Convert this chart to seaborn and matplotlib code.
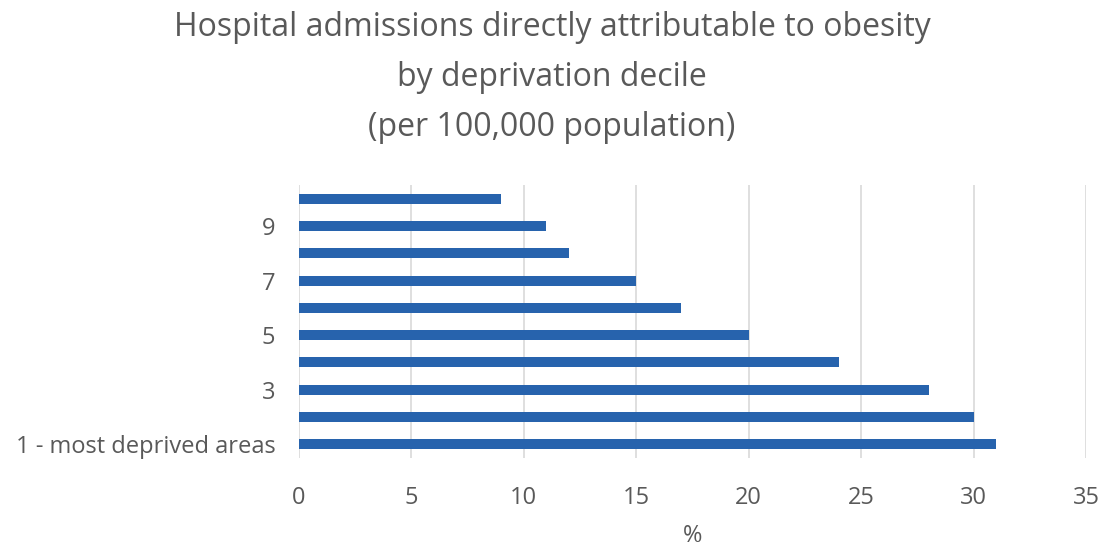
import matplotlib
matplotlib.use("Agg")
import matplotlib.pyplot as plt
import seaborn as sns
import pandas as pd

# Deprivation deciles, top of chart (least deprived) to bottom (most deprived)
deciles = ["10", "9", "8", "7", "6", "5", "4", "3", "2", "1 - most deprived areas"]
rates = [9, 11, 12, 15, 17, 20, 24, 28, 30, 31]
shown_labels = ["", "9", "", "7", "", "5", "", "3", "", "1 - most deprived areas"]
x_ticks = [0, 5, 10, 15, 20, 25, 30, 35]

title_lines = [
    "Hospital admissions directly attributable to obesity",
    "by deprivation decile",
    "(per 100,000 population)",
]

df = pd.DataFrame({"decile": deciles, "rate": rates})

sns.set_theme(style="white")
plt.rcParams["font.family"] = ["Open Sans", "DejaVu Sans"]

text_color = "#595959"
bar_color = "#2763AD"

fig = plt.figure(figsize=(11.04, 5.49), dpi=100)
ax = fig.add_axes([0.2708, 0.1658, 0.7129, 0.4972])

sns.barplot(data=df, x="rate", y="decile", order=deciles, color=bar_color,
            width=0.37, saturation=1, ax=ax, edgecolor="none")

ax.set_xlim(0, 35)
ax.set_xticks(x_ticks)
ax.set_xticklabels([str(t) for t in x_ticks])
ax.set_yticks(range(len(deciles)))
ax.set_yticklabels(shown_labels)

ax.xaxis.grid(True, color="#d9d9d9", linewidth=1.2)
ax.yaxis.grid(False)
ax.set_axisbelow(True)
for side in ["top", "right", "bottom", "left"]:
    ax.spines[side].set_visible(False)

ax.tick_params(axis="y", length=0, pad=17, labelsize=17, labelcolor=text_color)
ax.tick_params(axis="x", length=0, pad=20, labelsize=17, labelcolor=text_color)

ax.set_ylabel("")
ax.set_xlabel("%", fontsize=17, color=text_color, labelpad=10)

for i, line in enumerate(title_lines):
    fig.text(0.5, 1 - (28 + i * 50) / 549, line, ha="center", va="center",
             fontsize=23, color=text_color)

fig.savefig("out.png", dpi=100)
